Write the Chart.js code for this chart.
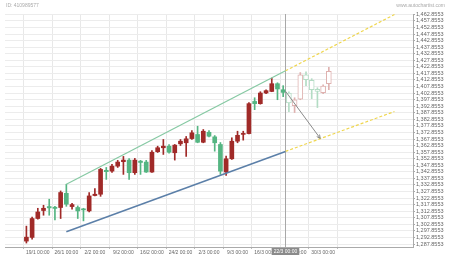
<!DOCTYPE html>
<html>
<head>
<meta charset="utf-8">
<script src="https://cdn.jsdelivr.net/npm/chart.js@4.4.0/dist/chart.umd.min.js"></script>
<style>
  html, body { margin: 0; padding: 0; background: #fff; }
  #wrap { position: relative; width: 450px; height: 257px; overflow: hidden; }
  .note { position: absolute; top: 2px; font: 5px "Liberation Sans", Arial, sans-serif; color: #aaa; white-space: nowrap; }
</style>
</head>
<body>
<div id="wrap">
  <canvas id="chart" width="450" height="257"></canvas>
  <div class="note" style="left:6px">ID: 410989577</div>
  <div class="note" style="right:5px">www.autochartist.com</div>
</div>
<script>
// candles, one per trading day (index 0 = first candle on the chart)
const open = [1290.1, 1292.9, 1307.3, 1313.4, 1316.4, 1315.9, 1315.7, 1326.5, 1316.4, 1315.7,
  1314.4, 1313.1, 1324.8, 1325.8, 1344.0, 1343.4, 1347.2, 1350.6, 1351.8, 1342.2,
  1351.0, 1350.3, 1342.7, 1358.2, 1361.2, 1362.4, 1357.4, 1364.2, 1365.0, 1368.2,
  1371.3, 1365.4, 1373.0, 1369.5, 1363.7, 1342.7, 1352.8, 1366.2, 1371.4, 1372.0,
  1396.5, 1394.8, 1402.9, 1404.1, 1410.0, 1405.4,
  1402.9, 1393.3, 1398.2, 1416.8, 1412.6, 1405.4, 1403.1, 1410.0];
const high = [1301.5, 1308.3, 1315.1, 1317.4, 1322.0, 1316.6, 1328.3, 1333.4, 1318.9, 1316.9,
  1315.1, 1327.1, 1330.1, 1345.5, 1346.2, 1348.5, 1351.6, 1354.6, 1353.0, 1353.1,
  1351.6, 1351.6, 1359.1, 1362.4, 1367.5, 1363.7, 1363.7, 1367.5, 1369.8, 1374.3,
  1377.6, 1375.1, 1374.3, 1370.5, 1365.2, 1354.8, 1368.8, 1373.8, 1373.8, 1395.6,
  1399.3, 1403.9, 1405.4, 1414.3, 1410.7, 1408.5,
  1403.9, 1399.3, 1418.5, 1419.1, 1413.8, 1406.9, 1409.2, 1422.5];
const low = [1288.6, 1291.6, 1306.8, 1309.8, 1309.8, 1306.3, 1307.3, 1316.6, 1314.4, 1307.3,
  1305.5, 1312.3, 1324.5, 1324.2, 1337.1, 1342.4, 1346.2, 1340.9, 1337.1, 1340.9,
  1340.9, 1342.4, 1342.4, 1357.6, 1356.1, 1357.0, 1351.8, 1362.9, 1354.6, 1367.5,
  1365.0, 1365.0, 1369.5, 1358.6, 1340.9, 1340.2, 1352.3, 1365.0, 1367.0, 1371.7,
  1390.2, 1394.4, 1402.4, 1403.9, 1397.8, 1400.1,
  1388.7, 1388.0, 1397.8, 1408.5, 1398.6, 1391.8, 1402.4, 1405.4];
const close = [1293.1, 1307.3, 1312.3, 1315.1, 1315.4, 1315.0, 1327.1, 1318.2, 1317.9, 1313.1,
  1313.9, 1324.5, 1325.8, 1344.7, 1343.0, 1347.2, 1350.3, 1351.8, 1342.2, 1351.8,
  1350.0, 1342.7, 1357.8, 1361.2, 1362.4, 1357.8, 1363.2, 1366.2, 1368.0, 1372.6,
  1365.4, 1373.8, 1370.0, 1365.0, 1343.4, 1352.8, 1366.2, 1370.7, 1372.0, 1394.8,
  1394.8, 1402.9, 1404.7, 1410.0, 1406.0, 1403.4,
  1395.3, 1397.8, 1416.8, 1413.0, 1405.4, 1404.1, 1408.2, 1419.5];
// candles from this index on came after the pattern (drawn faded)
const futureStart = 46;

// x axis date labels and the candle index they sit on
const dateTickIdx = [2, 7, 12, 17, 22, 27, 32, 37, 42, 47, 52];
const dateTickLabels = ['19/1 00:00', '26/1 00:00', '2/2 00:00', '9/2 00:00', '16/2 00:00',
  '24/2 00:00', '2/3 00:00', '9/3 00:00', '16/3 00:00', '23/3 00:00', '30/3 00:00'];

// price axis labels
const priceLabels = ['1,287.8553', '1,292.8553', '1,297.8553', '1,302.8553', '1,307.8553',
  '1,312.8553', '1,317.8553', '1,322.8553', '1,327.8553', '1,332.8553', '1,337.8553',
  '1,342.8553', '1,347.8553', '1,352.8553', '1,357.8553', '1,362.8553', '1,367.8553',
  '1,372.8553', '1,377.8553', '1,382.8553', '1,387.8553', '1,392.8553', '1,397.8553',
  '1,402.8553', '1,407.8553', '1,412.8553', '1,417.8553', '1,422.8553', '1,427.8553',
  '1,432.8553', '1,437.8553', '1,442.8553', '1,447.8553', '1,452.8553', '1,457.8553',
  '1,462.8553'];

// channel: [start index, end index], values at those points
const channelX = [7, 45.4];
const upperChannel = [1333.4, 1419.8];
const lowerChannel = [1297.2, 1358.4];
// projection of the channel to the right edge
const projectionX = [45.4, 64.5];
const upperProjection = [1419.8, 1462.7];
const lowerProjection = [1358.4, 1388.8];
// forecast arrow
const arrowX = [45.4, 51.5];
const arrowY = [1404.3, 1368.3];
// time the pattern was found
const markerIdx = 45.4;
const markerLabel = '22/3 00:00';

const UP = '#a02a28', DOWN = '#55b582';
const UP_PALE = '#dfb2b0', DOWN_PALE = '#b3dcc4';
const FONT = '"Liberation Sans", Arial, sans-serif';

const idx = open.map((_, i) => i);
const real = idx.filter(i => i < futureStart);
const future = idx.filter(i => i >= futureStart);
const isUp = i => close[i] >= open[i];
const wicks = list => list.map(i => ({ x: i, y: [low[i], high[i]] }));
const bodies = list => list.map(i => ({ x: i, y: [open[i], close[i]] }));
const pts = (xs, ys) => xs.map((x, i) => ({ x, y: ys[i] }));
const priceValues = priceLabels.map(l => parseFloat(l.replace(/,/g, '')));

const lineDs = (data, color, width, dash) => ({
  type: 'line', data, borderColor: color, borderWidth: width, borderDash: dash || [],
  pointRadius: 0, fill: false, order: 0
});

const markerPlugin = {
  id: 'marker',
  beforeDatasetsDraw(chart) {
    const { ctx, chartArea, scales } = chart;
    const x = Math.round(scales.x.getPixelForValue(markerIdx)) + 0.5;
    ctx.save();
    ctx.strokeStyle = '#a8a8a8';
    ctx.lineWidth = 1;
    ctx.beginPath();
    ctx.moveTo(x, chartArea.top);
    ctx.lineTo(x, chartArea.bottom + 2);
    ctx.stroke();
    ctx.restore();
  },
  afterDraw(chart) {
    const { ctx, chartArea, scales } = chart;
    const x = scales.x.getPixelForValue(markerIdx);
    ctx.save();
    ctx.font = '5px ' + FONT;
    const w = ctx.measureText(markerLabel).width + 4;
    ctx.fillStyle = '#8a8a8a';
    ctx.fillRect(x - w / 2, chartArea.bottom + 1, w, 7);
    ctx.fillStyle = '#ffffff';
    ctx.textAlign = 'center';
    ctx.textBaseline = 'middle';
    ctx.fillText(markerLabel, x, chartArea.bottom + 4.6);
    ctx.restore();
  }
};

const arrowPlugin = {
  id: 'arrowHead',
  afterDatasetsDraw(chart) {
    const ds = chart.data.datasets.findIndex(d => d.label === 'arrow');
    const p = chart.getDatasetMeta(ds).data;
    const a = Math.atan2(p[1].y - p[0].y, p[1].x - p[0].x);
    const ctx = chart.ctx;
    ctx.save();
    ctx.strokeStyle = '#8a8a8a';
    ctx.lineWidth = 1;
    ctx.beginPath();
    ctx.moveTo(p[1].x - 4 * Math.cos(a - 0.45), p[1].y - 4 * Math.sin(a - 0.45));
    ctx.lineTo(p[1].x, p[1].y);
    ctx.lineTo(p[1].x - 4 * Math.cos(a + 0.45), p[1].y - 4 * Math.sin(a + 0.45));
    ctx.stroke();
    ctx.restore();
  }
};

new Chart(document.getElementById('chart'), {
  type: 'bar',
  data: {
    datasets: [
      lineDs(pts(channelX, upperChannel), '#86c9a3', 1.2),
      lineDs(pts(channelX, lowerChannel), '#5b7fa8', 1.5),
      lineDs(pts(projectionX, upperProjection), '#efd64e', 1.2, [3, 2]),
      lineDs(pts(projectionX, lowerProjection), '#efd64e', 1.2, [3, 2]),
      Object.assign(lineDs(pts(arrowX, arrowY), '#8a8a8a', 1), { label: 'arrow' }),
      {
        data: bodies(real), backgroundColor: real.map(i => isUp(i) ? UP : DOWN),
        barThickness: 4, grouped: false, minBarLength: 1, order: 1
      },
      {
        data: wicks(real), backgroundColor: real.map(i => isUp(i) ? UP : DOWN),
        barThickness: 1, grouped: false, order: 2
      },
      {
        data: bodies(future), backgroundColor: '#ffffff',
        borderColor: future.map(i => isUp(i) ? UP_PALE : DOWN_PALE),
        borderWidth: 1, borderSkipped: false,
        barThickness: 5, grouped: false, minBarLength: 2, order: 1
      },
      {
        data: wicks(future), backgroundColor: future.map(i => isUp(i) ? UP_PALE : DOWN_PALE),
        barThickness: 1, grouped: false, order: 2
      }
    ]
  },
  options: {
    responsive: false,
    animation: false,
    layout: { padding: { top: 14, left: 5, right: 0, bottom: 0 } },
    plugins: { legend: { display: false }, tooltip: { enabled: false } },
    scales: {
      x: {
        type: 'linear', min: -0.5, max: 64.5,
        afterBuildTicks: s => { s.ticks = dateTickIdx.map(v => ({ value: v })); },
        afterFit: s => { s.height = 10; },
        ticks: {
          autoSkip: false, maxRotation: 0, padding: 1, color: '#666',
          font: { size: 5, family: FONT },
          callback: (v, i) => dateTickLabels[i]
        },
        grid: { color: '#e8e8e8', tickLength: 2, tickColor: '#bbb' },
        border: { color: '#aaa' }
      },
      y: {
        type: 'linear', position: 'right', min: 1285.6, max: 1463.1,
        afterBuildTicks: s => { s.ticks = priceValues.map(v => ({ value: v })); },
        afterFit: s => { s.width = 37; },
        ticks: {
          autoSkip: false, padding: 1, color: '#666', font: { size: 5.5, family: FONT },
          callback: (v, i) => priceLabels[i]
        },
        grid: { color: '#ececec', tickLength: 2, tickColor: '#aaa' },
        border: { color: '#aaa' }
      }
    }
  },
  plugins: [markerPlugin, arrowPlugin]
});
</script>
</body>
</html>
